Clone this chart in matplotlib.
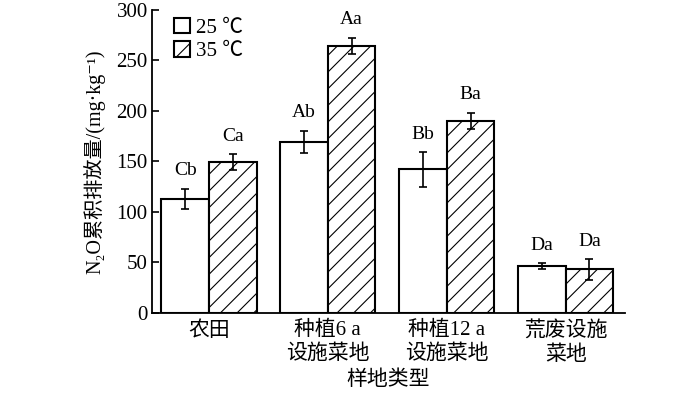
import matplotlib as mpl
mpl.use('Agg')
import matplotlib.pyplot as plt
import numpy as np

mpl.rcParams.update({'font.family': ['Liberation Serif', 'Noto Sans CJK SC', 'DejaVu Serif'],
                     'font.size': 14, 'hatch.linewidth': 0.8, 'axes.linewidth': 1.3})

sites = ['农田', '种植6 a\n设施菜地', '种植12 a\n设施菜地', '荒废设施\n菜地']
temps = ['25 ℃', '35 ℃']
n2o_25 = [113, 169, 142, 46]
n2o_35 = [149, 264, 190, 43]
err_25 = [10, 11, 17, 3]
err_35 = [8, 8, 8, 10]
lab_25 = ['Cb', 'Ab', 'Bb', 'Da']
lab_35 = ['Ca', 'Aa', 'Ba', 'Da']

fig = plt.figure(figsize=(7.0, 3.96), dpi=100)
ax = fig.add_axes([0.217, 0.21, 0.676, 0.765])

x = np.arange(len(sites))
w = 0.4
ekw = dict(ecolor='black', elinewidth=1.2, capsize=3, capthick=1.2)
ax.bar(x - w / 2, n2o_25, w, yerr=err_25, color='white', edgecolor='black',
       lw=1.5, error_kw=ekw, label=temps[0])
ax.bar(x + w / 2, n2o_35, w, yerr=err_35, color='white', edgecolor='black',
       lw=1.5, hatch='//', error_kw=ekw, label=temps[1])

for xs, vals, errs, labs in [(x - w / 2, n2o_25, err_25, lab_25), (x + w / 2, n2o_35, err_35, lab_35)]:
    for xi, v, e, t in zip(xs, vals, errs, labs):
        ax.annotate(t, (xi, v + e), xytext=(0, 7), textcoords='offset points',
                    ha='center', va='bottom', fontsize=14)

ax.set_xlim(-0.48, 3.5)
ax.set_ylim(0, 300)
ax.set_yticks(range(0, 301, 50))
ax.tick_params(axis='y', direction='in', length=5, width=1.2, labelsize=15, pad=3)
ax.tick_params(axis='x', length=0, labelsize=15, pad=6)
ax.set_xticks(x)
ax.set_xticklabels(sites, linespacing=1.3)
for s in ('top', 'right'):
    ax.spines[s].set_visible(False)

ax.set_xlabel('样地类型', fontsize=15, labelpad=4)
ax.set_ylabel('N₂O累积排放量/(mg·kg⁻¹)', fontsize=14.5, labelpad=8)

ax.legend(loc='upper left', bbox_to_anchor=(0.03, 1.0), frameon=False, fontsize=15,
          handlelength=0.75, handleheight=0.75, handletextpad=0.3, labelspacing=0.15,
          borderaxespad=0)

fig.savefig('out.png', dpi=100)
